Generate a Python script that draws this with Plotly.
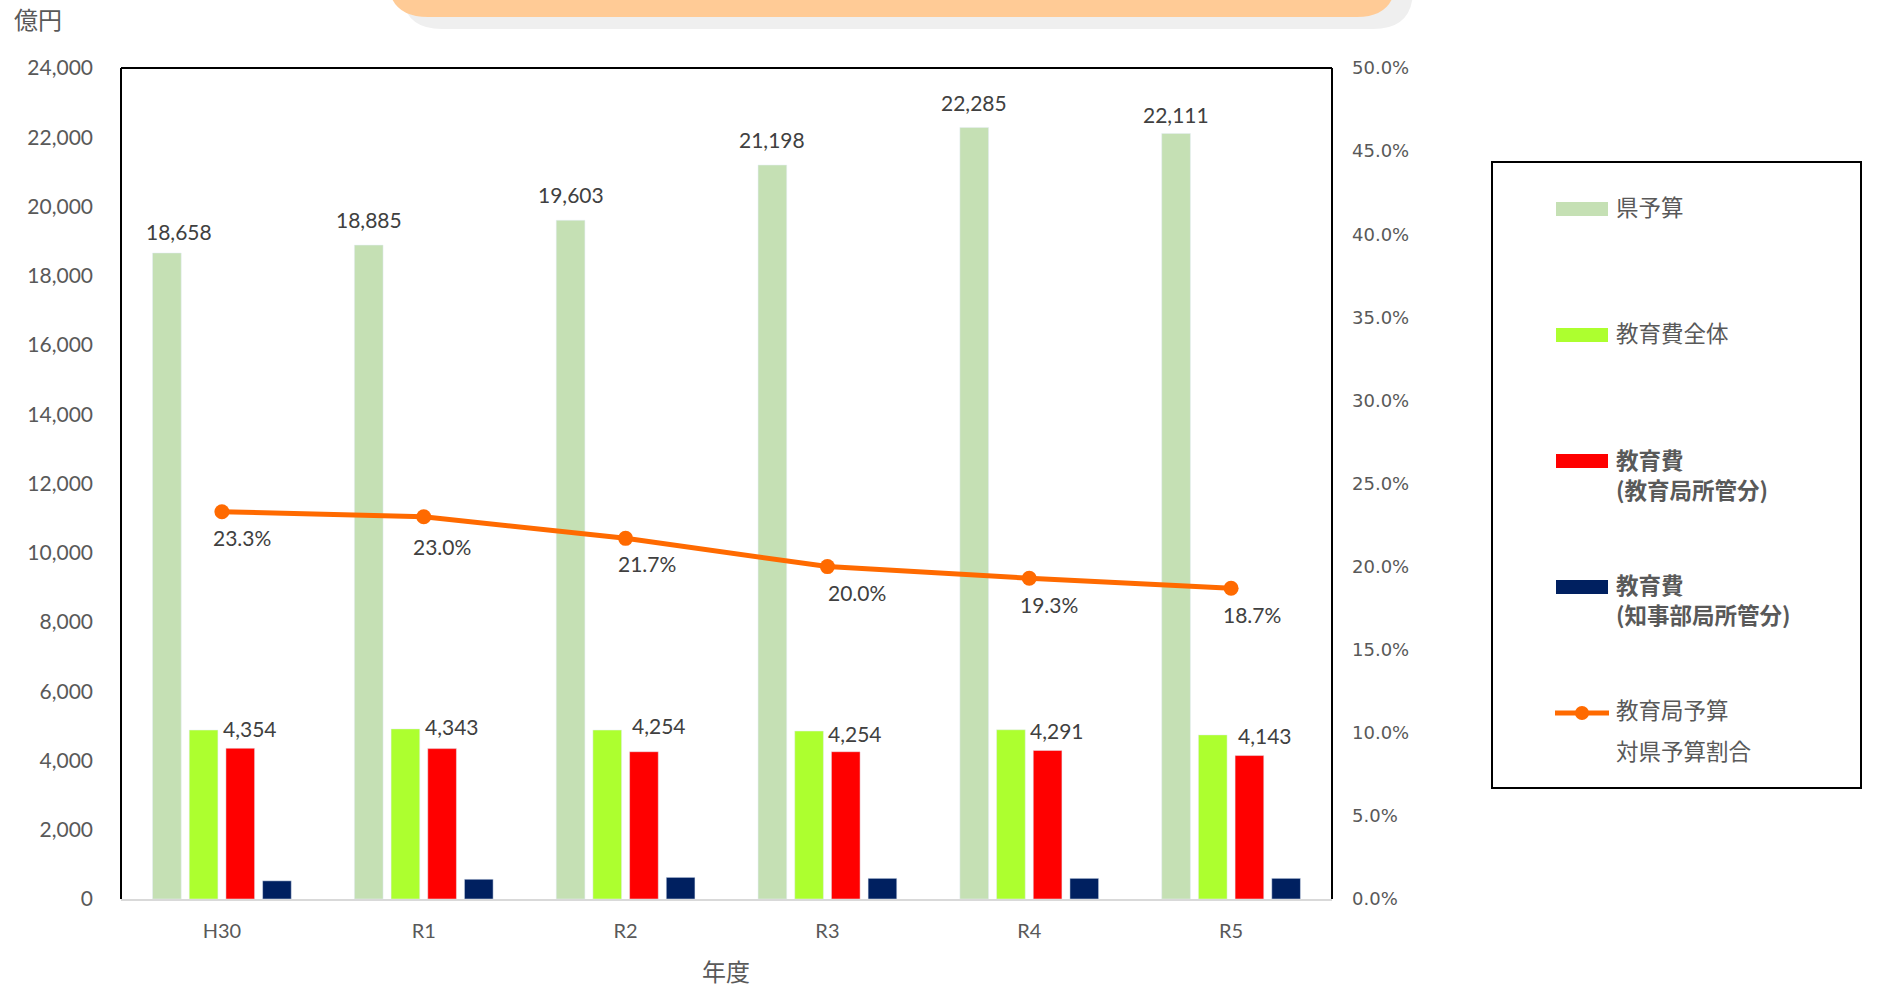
import plotly.graph_objects as go

# ---------------- data ----------------
categories = ["H30", "R1", "R2", "R3", "R4", "R5"]
pref_budget = [18658, 18885, 19603, 21198, 22285, 22111]        # 県予算
edu_total = [4879, 4913, 4879, 4851, 4888, 4740]                # 教育費全体
edu_bureau = [4354, 4343, 4254, 4254, 4291, 4143]               # 教育費(教育局所管分)
edu_governor = [525, 570, 625, 597, 597, 597]                   # 教育費(知事部局所管分)
ratio = [0.233, 0.230, 0.217, 0.200, 0.193, 0.187]              # 教育局予算 対県予算割合

y_ticks = list(range(0, 24001, 2000))
y2_ticks = [i * 0.05 for i in range(11)]

# label placement tweaks (pixels), as in the original chart
pref_lbl_dx = [-43, -55, -55, -55, -55, -55]
pref_lbl_dy = [21, 26, 26, 26, 25, 19]
bureau_lbl_dx = [28, 28, 33, 28, 28, 34]
bureau_lbl_dy = [20, 22, 26, 18, 20, 20]
ratio_lbl_dx = [20, 18, 21, 30, 20, 21]
ratio_lbl_dy = [-26, -30, -25, -26, -26, -26]

# ---------------- layout geometry (pixels) ----------------
W, H = 1879, 989
PL, PR, PT, PB = 121, 1332, 68, 899


def xp(px):
    return (px - PL) / (PR - PL)


def yp(py):
    return (PB - py) / (PB - PT)


C_PREF = "#C5E0B4"
C_TOTAL = "#ADFF2F"
C_BUREAU = "#FF0000"
C_GOV = "#002060"
C_LINE = "#FF6A00"
TXT = "#404040"
TICK = "#595959"

fig = go.Figure()
fig.add_trace(go.Bar(x=categories, y=pref_budget, name="県予算", marker_color=C_PREF))
fig.add_trace(go.Bar(x=categories, y=edu_total, name="教育費全体", marker_color=C_TOTAL))
fig.add_trace(go.Bar(x=categories, y=edu_bureau, name="教育費(教育局所管分)", marker_color=C_BUREAU))
fig.add_trace(go.Bar(x=categories, y=edu_governor, name="教育費(知事部局所管分)", marker_color=C_GOV))
fig.add_trace(go.Scatter(x=categories, y=ratio, name="教育局予算対県予算割合", yaxis="y2",
                         mode="lines+markers",
                         line=dict(color=C_LINE, width=5),
                         marker=dict(color=C_LINE, size=15)))

annotations = []
# data labels
for c, v, dx, dy in zip(categories, pref_budget, pref_lbl_dx, pref_lbl_dy):
    annotations.append(dict(x=c, y=v, xref="x", yref="y", text=f"{v:,}", showarrow=False,
                            xshift=dx, yshift=dy, yanchor="middle",
                            font=dict(family="Lato", size=21, color=TXT)))
for c, v, dx, dy in zip(categories, edu_bureau, bureau_lbl_dx, bureau_lbl_dy):
    annotations.append(dict(x=c, y=v, xref="x", yref="y", text=f"{v:,}", showarrow=False,
                            xshift=dx, yshift=dy, yanchor="middle",
                            font=dict(family="Lato", size=21, color=TXT)))
for c, v, dx, dy in zip(categories, ratio, ratio_lbl_dx, ratio_lbl_dy):
    annotations.append(dict(x=c, y=v, xref="x", yref="y2", text=f"{v*100:.1f}%", showarrow=False,
                            xshift=dx, yshift=dy, yanchor="middle",
                            font=dict(family="Lato", size=21, color=TXT)))

# axis unit / title texts
annotations.append(dict(x=xp(12), y=yp(18), xref="paper", yref="paper", text="億円",
                        showarrow=False, xanchor="left", yanchor="middle",
                        font=dict(family="Noto Sans CJK JP", size=24, color=TICK)))
annotations.append(dict(x=xp(726), y=yp(971), xref="paper", yref="paper", text="年度",
                        showarrow=False, xanchor="center", yanchor="middle",
                        font=dict(family="Noto Sans CJK JP", size=24, color=TICK)))

shapes = []
# top decorative banner (shadow + orange)
shapes.append(dict(type="path", xref="paper", yref="paper", layer="below",
                   path=(f"M {xp(402)},{yp(-30)} L {xp(402)},{yp(-10)} "
                         f"Q {xp(402)},{yp(29)} {xp(442)},{yp(29)} "
                         f"L {xp(1373)},{yp(29)} Q {xp(1413)},{yp(29)} {xp(1413)},{yp(-10)} "
                         f"L {xp(1413)},{yp(-30)} Z"),
                   fillcolor="#EFEFEF", line=dict(width=0)))
shapes.append(dict(type="path", xref="paper", yref="paper", layer="below",
                   path=(f"M {xp(388)},{yp(-30)} L {xp(388)},{yp(-22)} "
                         f"Q {xp(388)},{yp(17)} {xp(428)},{yp(17)} "
                         f"L {xp(1357)},{yp(17)} Q {xp(1396)},{yp(17)} {xp(1396)},{yp(-22)} "
                         f"L {xp(1396)},{yp(-30)} Z"),
                   fillcolor="#FFCB96", line=dict(width=0)))

# plot frame: black left/top/right
for (x0, y0, x1, y1) in [(0, 0, 0, 1), (0, 1, 1, 1), (1, 0, 1, 1)]:
    shapes.append(dict(type="line", xref="paper", yref="paper", x0=x0, y0=y0, x1=x1, y1=y1,
                       line=dict(color="#000000", width=2)))

# manual legend
LEG_FONT = 22.5
shapes.append(dict(type="rect", xref="paper", yref="paper",
                   x0=xp(1492), x1=xp(1861), y0=yp(162), y1=yp(788),
                   line=dict(color="#000000", width=2), fillcolor="rgba(0,0,0,0)"))
legend_items = [
    (C_PREF, 209, ["県予算"], [206], False),
    (C_TOTAL, 335, ["教育費全体"], [332], False),
    (C_BUREAU, 461, ["教育費", "(教育局所管分)"], [459, 489], True),
    (C_GOV, 587, ["教育費", "(知事部局所管分)"], [584, 614], True),
]
for col, sy, lines, tys, bold in legend_items:
    shapes.append(dict(type="rect", xref="paper", yref="paper",
                       x0=xp(1556), x1=xp(1608), y0=yp(sy - 7), y1=yp(sy + 7),
                       fillcolor=col, line=dict(width=0)))
    for t, ty in zip(lines, tys):
        annotations.append(dict(x=xp(1614), y=yp(ty), xref="paper", yref="paper",
                                text=f"<b>{t}</b>" if bold else t, showarrow=False,
                                xanchor="left", yanchor="middle",
                                font=dict(family="Noto Sans CJK JP", size=LEG_FONT, color=TICK)))
# line legend item
shapes.append(dict(type="line", xref="paper", yref="paper",
                   x0=xp(1555), x1=xp(1609), y0=yp(713), y1=yp(713),
                   line=dict(color=C_LINE, width=5)))
shapes.append(dict(type="circle", xref="paper", yref="paper",
                   x0=xp(1575), x1=xp(1589), y0=yp(706), y1=yp(720),
                   fillcolor=C_LINE, line=dict(width=0)))
for t, ty in zip(["教育局予算", "対県予算割合"], [709, 750]):
    annotations.append(dict(x=xp(1614), y=yp(ty), xref="paper", yref="paper",
                            text=t, showarrow=False, xanchor="left", yanchor="middle",
                            font=dict(family="Noto Sans CJK JP", size=LEG_FONT, color=TICK)))

fig.update_layout(
    width=W, height=H,
    margin=dict(l=PL, r=W - PR, t=PT, b=H - PB, pad=0),
    paper_bgcolor="white", plot_bgcolor="white",
    barmode="group", bargap=0.273, bargroupgap=0.218,
    showlegend=False,
    xaxis=dict(type="category", showgrid=False, zeroline=False,
               showline=True, linecolor="#D9D9D9", linewidth=2,
               ticks="", ticklabelstandoff=13,
               tickfont=dict(family="Lato", size=20, color=TICK)),
    yaxis=dict(range=[0, 24000], tickvals=y_ticks, tickformat=",", showgrid=False,
               zeroline=False, showline=False, ticks="", ticklabelstandoff=27,
               tickfont=dict(family="Lato", size=21, color=TICK)),
    yaxis2=dict(range=[0, 0.5], tickvals=y2_ticks, tickformat=".1%", overlaying="y",
                side="right", showgrid=False, zeroline=False, showline=False, ticks="",
                ticklabelstandoff=19,
                tickfont=dict(family="DejaVu Sans", size=18, color=TICK)),
    annotations=annotations,
    shapes=shapes,
)

fig.write_html(
    "out.html",
    config={"displayModeBar": False},
    post_script="document.body.style.margin='0';document.body.style.overflow='hidden';",
)
